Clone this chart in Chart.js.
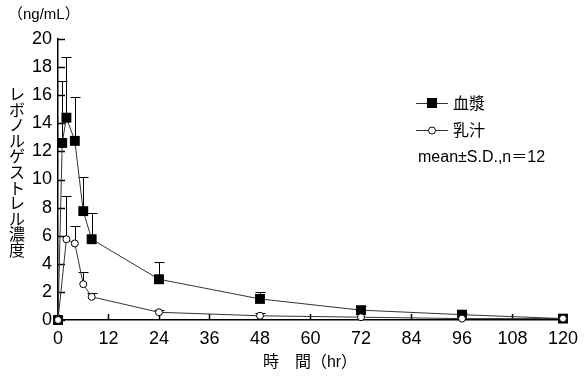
<!DOCTYPE html>
<html>
<head>
<meta charset="utf-8">
<script src="https://cdn.jsdelivr.net/npm/chart.js@4/dist/chart.umd.min.js"></script>
<style>
  body { margin: 0; background: #fff; }
</style>
</head>
<body>
<canvas id="pkChart" width="586" height="380"></canvas>
<script>
// ── Data ───────────────────────────────────────────────────
const plasmaHours = [0, 1, 2, 4, 6, 8, 24, 48, 72, 96, 120];
const plasmaMean  = [0, 12.6, 14.4, 12.75, 7.75, 5.75, 2.9, 1.5, 0.7, 0.38, 0.1];
const plasmaSD    = [0, 4.4, 4.3, 3.15, 2.45, 1.9, 1.25, 0.5, 0.3, 0.12, 0];

const milkHours = [0, 2, 4, 6, 8, 24, 48, 72, 96, 120];
const milkMean  = [0, 5.75, 5.45, 2.55, 1.65, 0.55, 0.3, 0.2, 0.1, 0.1];
const milkSD    = [0, 3.05, 1.25, 0.9, 0.3, 0.15, 0.2, 0, 0, 0];

const xTicks = [0, 12, 24, 36, 48, 60, 72, 84, 96, 108, 120];
const yTicks = [0, 2, 4, 6, 8, 10, 12, 14, 16, 18, 20];

const yTitle = "レボノルゲストレル濃度";
const latin = "'Liberation Sans', Arial, sans-serif";
const cjk = "'Liberation Sans', 'Noto Sans CJK JP', sans-serif";

function toPoints(xs, ys) {
  return xs.map((v, i) => ({ x: v, y: ys[i] }));
}

// ── Upper error bars (mean + S.D.) ─────────────────────────
const errorBars = {
  id: "errorBars",
  beforeDatasetsDraw(chart) {
    const { ctx, scales: { x, y } } = chart;
    ctx.save();
    ctx.strokeStyle = "#000";
    ctx.lineWidth = 1;
    chart.data.datasets.forEach((ds) => {
      ds.data.forEach((p, i) => {
        const sd = ds.sd[i];
        if (!sd) return;
        const px = Math.round(x.getPixelForValue(p.x)) + 0.5;
        const py = y.getPixelForValue(p.y);
        const top = Math.round(y.getPixelForValue(p.y + sd)) + 0.5;
        ctx.beginPath();
        ctx.moveTo(px, py);
        ctx.lineTo(px, top);
        ctx.moveTo(px - 5, top);
        ctx.lineTo(px + 5, top);
        ctx.stroke();
      });
    });
    ctx.restore();
  },
};

// ── Inward tick marks, titles and legend ───────────────────
const decorations = {
  id: "decorations",
  beforeDatasetsDraw(chart) {
    const { ctx, scales: { x, y } } = chart;
    ctx.save();
    ctx.strokeStyle = "#000";
    ctx.lineWidth = 1.5;
    const x0 = x.getPixelForValue(0);
    const y0 = y.getPixelForValue(0);
    yTicks.forEach((v) => {
      const py = Math.round(y.getPixelForValue(v)) + 0.5;
      ctx.beginPath();
      ctx.moveTo(x0, py);
      ctx.lineTo(x0 + 7, py);
      ctx.stroke();
    });
    xTicks.forEach((v) => {
      const px = Math.round(x.getPixelForValue(v)) + 0.5;
      ctx.beginPath();
      ctx.moveTo(px, y0);
      ctx.lineTo(px, y0 - 6);
      ctx.stroke();
    });
    ctx.restore();
  },
  afterDraw(chart) {
    const { ctx } = chart;
    ctx.save();
    ctx.fillStyle = "#000";
    ctx.textBaseline = "middle";

    // unit label
    ctx.font = "15px " + cjk;
    ctx.textAlign = "left";
    ctx.fillText("（ng/mL）", 8, 15);

    // vertical y-axis title
    ctx.textAlign = "center";
    ctx.font = "16px 'Noto Sans CJK JP', sans-serif";
    [...yTitle].forEach((ch, i) => {
      ctx.fillText(ch, 17, 94 + i * 15.6);
    });

    // x-axis title
    ctx.font = "16px " + cjk;
    ctx.fillText("時　間（hr）", 310, 363);

    // legend
    ctx.strokeStyle = "#333";
    ctx.lineWidth = 1;
    const rows = [
      { y: 103, label: "血漿", filled: true },
      { y: 130, label: "乳汁", filled: false },
    ];
    rows.forEach((r) => {
      ctx.beginPath();
      ctx.moveTo(416, r.y + 0.5);
      ctx.lineTo(448, r.y + 0.5);
      ctx.stroke();
      if (r.filled) {
        ctx.fillStyle = "#000";
        ctx.fillRect(427, r.y - 5, 10, 10);
      } else {
        ctx.fillStyle = "#fff";
        ctx.strokeStyle = "#000";
        ctx.beginPath();
        ctx.arc(432, r.y + 0.5, 3.5, 0, Math.PI * 2);
        ctx.fill();
        ctx.stroke();
        ctx.strokeStyle = "#333";
      }
      ctx.fillStyle = "#000";
      ctx.textAlign = "left";
      ctx.font = "16px 'Noto Sans CJK JP', sans-serif";
      ctx.fillText(r.label, 453, r.y);
    });
    ctx.font = "16px " + cjk;
    ctx.fillText("mean±S.D.,n＝12", 418, 158);
    ctx.restore();
  },
};

new Chart(document.getElementById("pkChart"), {
  type: "scatter",
  data: {
    datasets: [
      {
        label: "乳汁",
        data: toPoints(milkHours, milkMean),
        sd: milkSD,
        showLine: true,
        borderColor: "#333",
        borderWidth: 1,
        pointStyle: "circle",
        pointRadius: 3.5,
        pointBackgroundColor: "#fff",
        pointBorderColor: "#000",
        pointBorderWidth: 1,
        clip: false,
        order: 0,
      },
      {
        label: "血漿",
        data: toPoints(plasmaHours, plasmaMean),
        sd: plasmaSD,
        showLine: true,
        borderColor: "#333",
        borderWidth: 1,
        pointStyle: "rect",
        pointRadius: 7,
        pointBackgroundColor: "#000",
        pointBorderColor: "#000",
        pointBorderWidth: 0,
        clip: false,
        order: 1,
      },
    ],
  },
  options: {
    responsive: false,
    animation: false,
    layout: { padding: { top: 39, right: 16, bottom: 0, left: 0 } },
    plugins: {
      legend: { display: false },
      tooltip: { enabled: false },
    },
    scales: {
      x: {
        type: "linear",
        min: 0,
        max: 120,
        afterBuildTicks: (s) => { s.ticks = xTicks.map((v) => ({ value: v })); },
        afterFit: (s) => { s.height = 60; },
        grid: { display: false, drawTicks: false },
        border: { display: true, color: "#000", width: 1.5 },
        ticks: { color: "#000", padding: 8, maxRotation: 0, font: { size: 18, family: latin } },
      },
      y: {
        min: 0,
        max: 20,
        afterBuildTicks: (s) => { s.ticks = yTicks.map((v) => ({ value: v })); },
        afterFit: (s) => { s.width = 58; },
        grid: { display: false, drawTicks: false },
        border: { display: true, color: "#000", width: 1.5 },
        ticks: { color: "#000", padding: 6, font: { size: 18, family: latin } },
      },
    },
  },
  plugins: [errorBars, decorations],
});
</script>
</body>
</html>
